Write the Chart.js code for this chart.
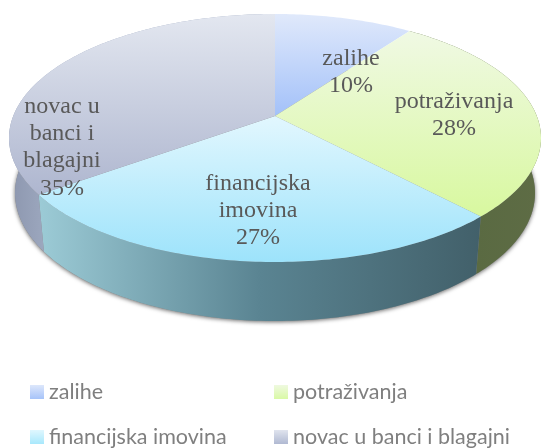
<!DOCTYPE html>
<html><head><meta charset="utf-8">
<style>html,body{margin:0;padding:0;background:#fff}canvas{display:block}</style>
<script src="https://cdn.jsdelivr.net/npm/chart.js@4"></script>
</head><body>
<canvas id="c" width="541" height="448"></canvas>
<script>
const categories = ['zalihe', 'potraživanja', 'financijska imovina', 'novac u banci i blagajni'];
const values = [10, 28, 27, 35];
const wrappedLabels = [['zalihe'], ['potraživanja'], ['financijska', 'imovina'], ['novac u', 'banci i', 'blagajni']];
const topGradients = [['#e0e9fb', '#a3c1f9'], ['#f0f9e4', '#d8f89f'], ['#e2f7fe', '#9de3fb'], ['#e3e7f0', '#aeb6cf']];
const wallGradients = [['#7a8cb0', '#7a8cb0'], ['#5a6a42', '#5e6c45'], ['#9ccbd6', '#5a8492', '#42606a'], ['#8c96ae', '#9ca7be']];
const legendGradients = [['#dde7fb', '#a6c3f9'], ['#eff9e0', '#d9f9a5'], ['#e0f7fe', '#a8e8fc'], ['#e0e4ee', '#b0b9d2']];

// Perspective view of the disc
const persp = -0.177;
const topRim = {cx: 275, cy: 138, rx: 266, ry: 124};
const botRim = {cx: 275, cy: 193, rx: 260, ry: 128};
const labelPos = [[351, 65], [454, 108], [258, 190], [62, 113]];
const LH = 27.2;

function project(rim, a) {
  const u = Math.cos(a), v = Math.sin(a), d = 1 + persp * v;
  return [rim.cx + rim.rx * u * Math.sqrt(1 - persp * persp) / d, rim.cy + rim.ry * (v + persp) / d];
}
function apex() { return [topRim.cx, topRim.cy + topRim.ry * persp]; }
function vGrad(ctx, y0, y1, cols) {
  const g = ctx.createLinearGradient(0, y0, 0, y1);
  cols.forEach((c, i) => g.addColorStop(i / (cols.length - 1), c));
  return g;
}
function hGrad(ctx, x0, x1, cols) {
  const g = ctx.createLinearGradient(x0, 0, x1, 0);
  cols.forEach((c, i) => g.addColorStop(i / (cols.length - 1), c));
  return g;
}
function rimPoints(rim, a0, a1) {
  const n = Math.max(2, Math.ceil((a1 - a0) * 60)), pts = [];
  for (let i = 0; i <= n; i++) pts.push(project(rim, a0 + (a1 - a0) * i / n));
  return pts;
}
function tracePts(ctx, pts) {
  pts.forEach((p, i) => i ? ctx.lineTo(p[0], p[1]) : ctx.moveTo(p[0], p[1]));
  ctx.closePath();
}

const pie3d = {
  id: 'pie3d',
  beforeDatasetsDraw(chart) {
    const ctx = chart.ctx, arcs = chart.getDatasetMeta(0).data;
    ctx.save();
    // soft shadow under the body
    ctx.save();
    ctx.shadowColor = 'rgba(0,0,0,0.6)';
    ctx.shadowBlur = 4;
    ctx.shadowOffsetY = 1;
    ctx.fillStyle = '#888';
    ctx.beginPath();
    tracePts(ctx, rimPoints(botRim, 0, Math.PI * 2));
    ctx.fill();
    ctx.restore();
    // walls
    arcs.forEach((arc, i) => {
      const a0 = arc.startAngle, a1 = arc.endAngle;
      const t = rimPoints(topRim, a0, a1), b = rimPoints(botRim, a0, a1).reverse();
      const all = t.concat(b);
      const front = all.filter(p => p[1] > topRim.cy);
      if (!front.length) return;
      const x0 = Math.min(...front.map(p => p[0])), x1 = Math.max(...front.map(p => p[0]));
      ctx.fillStyle = hGrad(ctx, x0, x1, wallGradients[i]);
      ctx.beginPath();
      tracePts(ctx, all);
      ctx.fill();
    });
    // top faces
    const ap = apex();
    arcs.forEach((arc, i) => {
      const rim = rimPoints(topRim, arc.startAngle, arc.endAngle);
      const pts = [ap].concat(rim);
      const ys = pts.map(p => p[1]);
      ctx.fillStyle = vGrad(ctx, Math.min(...ys), Math.max(...ys), topGradients[i]);
      ctx.beginPath();
      tracePts(ctx, pts);
      ctx.fill();
    });
    ctx.restore();
    return false;
  },
  afterDraw(chart) {
    const ctx = chart.ctx;
    ctx.save();
    // data labels
    ctx.font = '24px "Liberation Serif"';
    ctx.fillStyle = '#595959';
    ctx.textAlign = 'center';
    ctx.textBaseline = 'alphabetic';
    values.forEach((v, i) => {
      const lines = wrappedLabels[i].concat(v + '%');
      lines.forEach((l, k) => ctx.fillText(l, labelPos[i][0], labelPos[i][1] + k * LH));
    });
    // legend
    ctx.font = '21.5px Lato';
    ctx.textAlign = 'left';
    const colX = [30, 274], rowY = [385, 430];
    categories.forEach((c, i) => {
      const x = colX[i % 2], y = rowY[Math.floor(i / 2)];
      ctx.fillStyle = vGrad(ctx, y, y + 14, legendGradients[i]);
      ctx.fillRect(x, y, 14, 14);
      ctx.fillStyle = '#7f7f7f';
      ctx.fillText(c, x + 19, y + 14);
    });
    ctx.restore();
  }
};

new Chart(document.getElementById('c'), {
  type: 'pie',
  data: { labels: categories, datasets: [{ data: values, backgroundColor: topGradients.map(g => g[1]), borderWidth: 0 }] },
  options: {
    responsive: false,
    animation: false,
    events: [],
    plugins: { legend: { display: false }, tooltip: { enabled: false } }
  },
  plugins: [pie3d]
});
</script>
</body></html>
